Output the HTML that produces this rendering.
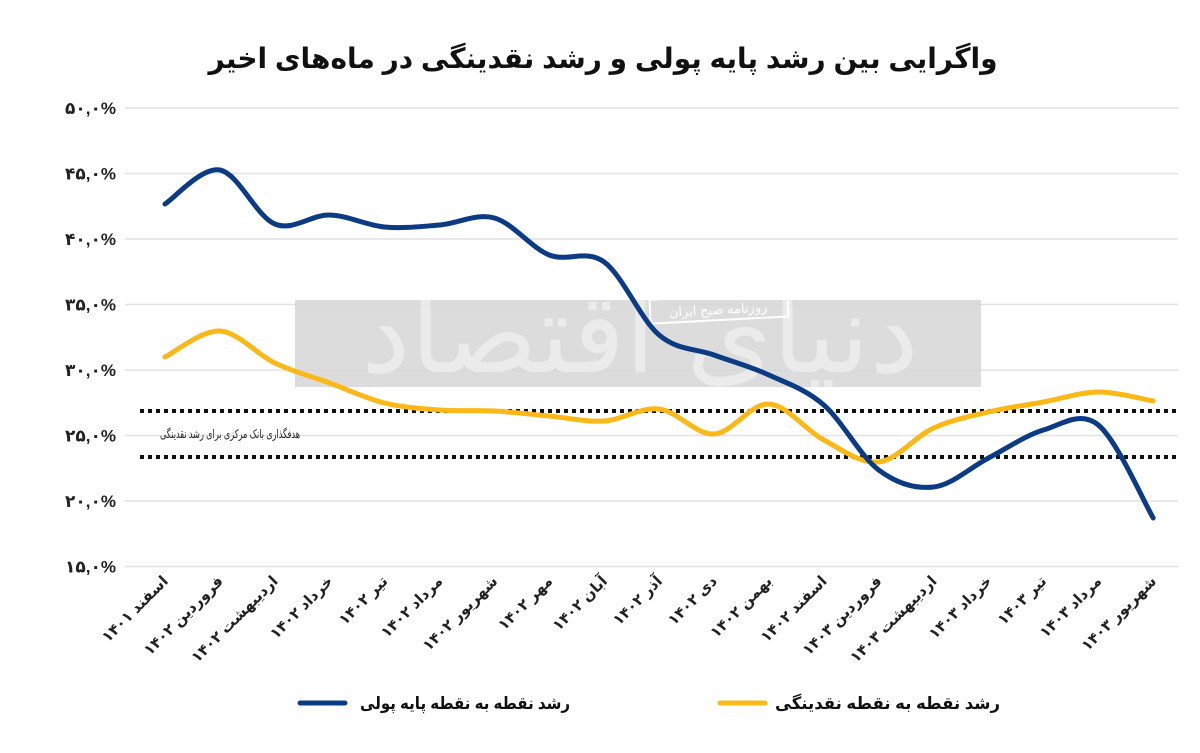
<!DOCTYPE html>
<html><head><meta charset="utf-8"><style>
body{margin:0;background:#fff;}
svg text{font-family:"Liberation Sans","DejaVu Sans",sans-serif;}
</style></head><body>
<svg id="s" width="1200" height="748" xmlns="http://www.w3.org/2000/svg">
<rect width="1200" height="748" fill="#fff"/>
<text x="603" y="68" text-anchor="middle" font-size="28" font-weight="bold" fill="#111">واگرایی بین رشد پایه پولی و رشد نقدینگی در ماه‌های اخیر</text>
<g id="grid"></g>
<rect x="295" y="300" width="686" height="87" fill="#d6d6d6" opacity="0.85"/>
<text x="640" y="372" font-size="110" fill="#fff" opacity="0.45" text-anchor="middle">دنیای اقتصاد</text>
<rect x="650" y="296" width="138" height="24" fill="none" stroke="#fff" stroke-width="2" transform="rotate(-3 720 308)"/>
<text x="718" y="314" font-size="13" fill="#fff" text-anchor="middle" transform="rotate(-3 720 308)">روزنامه صبح ایران</text>
<line x1="140" y1="411" x2="1178" y2="411" stroke="#111" stroke-width="4" stroke-dasharray="4 4"/>
<line x1="140" y1="457" x2="1178" y2="457" stroke="#111" stroke-width="4" stroke-dasharray="4 4"/>
<text x="160" y="438" font-size="12" fill="#222" textLength="140" lengthAdjust="spacingAndGlyphs">هدفگذاری بانک مرکزی برای رشد نقدینگی</text>
<path id="yl" fill="none" stroke="#fbb817" stroke-width="5" stroke-linecap="round"/>
<path id="bl" fill="none" stroke="#0b3b85" stroke-width="5" stroke-linecap="round"/>
<g id="xl"></g>
<line x1="300" y1="703" x2="345" y2="703" stroke="#0b3b85" stroke-width="5" stroke-linecap="round"/>
<text x="360" y="709" font-size="17" font-weight="bold" fill="#111" textLength="210" lengthAdjust="spacingAndGlyphs">رشد نقطه به نقطه پایه پولی</text>
<line x1="720" y1="703" x2="765" y2="703" stroke="#fbb817" stroke-width="5" stroke-linecap="round"/>
<text x="775" y="709" font-size="17" font-weight="bold" fill="#111" textLength="225" lengthAdjust="spacingAndGlyphs">رشد نقطه به نقطه نقدینگی</text>
</svg>
<script>
var NS="http://www.w3.org/2000/svg";
function el(t,a,p,txt){var e=document.createElementNS(NS,t);for(var k in a)e.setAttribute(k,a[k]);if(txt)e.textContent=txt;p.appendChild(e);return e;}
var g=document.getElementById('grid');
var labs=["۵۰,۰%","۴۵,۰%","۴۰,۰%","۳۵,۰%","۳۰,۰%","۲۵,۰%","۲۰,۰%","۱۵,۰%"];
for(var i=0;i<8;i++){var y=108+i*65.5;
el('line',{x1:125,y1:y,x2:1178,y2:y,stroke:"#e2e2e2","stroke-width":1.5},g);
el('text',{x:116,y:y+6,"font-size":17,"font-weight":"bold",fill:"#222","text-anchor":"end"},g,labs[i]);}
var bl=[204,170,224,215,227,225,218,255,262,335,355,375,405,470,487,458,430,425,518];
var yl=[357,331,363,383,403,410,411,416,421,409,434,404,440,462,428,412,402,392,401];
function X(i){return 165+i*54.9;}
function path(d){var p="M"+X(0)+","+d[0];for(var i=0;i<d.length-1;i++){
var x0=X(Math.max(i-1,0)),y0=d[Math.max(i-1,0)],x1=X(i),y1=d[i],x2=X(i+1),y2=d[i+1],x3=X(Math.min(i+2,d.length-1)),y3=d[Math.min(i+2,d.length-1)];
p+=" C"+(x1+(x2-x0)/6)+","+(y1+(y2-y0)/6)+" "+(x2-(x3-x1)/6)+","+(y2-(y3-y1)/6)+" "+x2+","+y2;}return p;}
document.getElementById('bl').setAttribute('d',path(bl));
document.getElementById('yl').setAttribute('d',path(yl));
var names=["اسفند ۱۴۰۱","فروردین ۱۴۰۲","اردیبهشت ۱۴۰۲","خرداد ۱۴۰۲","تیر ۱۴۰۲","مرداد ۱۴۰۲","شهریور ۱۴۰۲","مهر ۱۴۰۲","آبان ۱۴۰۲","آذر ۱۴۰۲","دی ۱۴۰۲","بهمن ۱۴۰۲","اسفند ۱۴۰۲","فروردین ۱۴۰۳","اردیبهشت ۱۴۰۳","خرداد ۱۴۰۳","تیر ۱۴۰۳","مرداد ۱۴۰۳","شهریور ۱۴۰۳"];
var xl=document.getElementById('xl');
for(var i=0;i<19;i++){var x=X(i)+4,y=582;
el('text',{x:x,y:y,"font-size":15,"font-weight":"bold",fill:"#222","text-anchor":"end",transform:"rotate(-45 "+x+" "+y+")"},xl,names[i]);}
</script>
</body></html>
